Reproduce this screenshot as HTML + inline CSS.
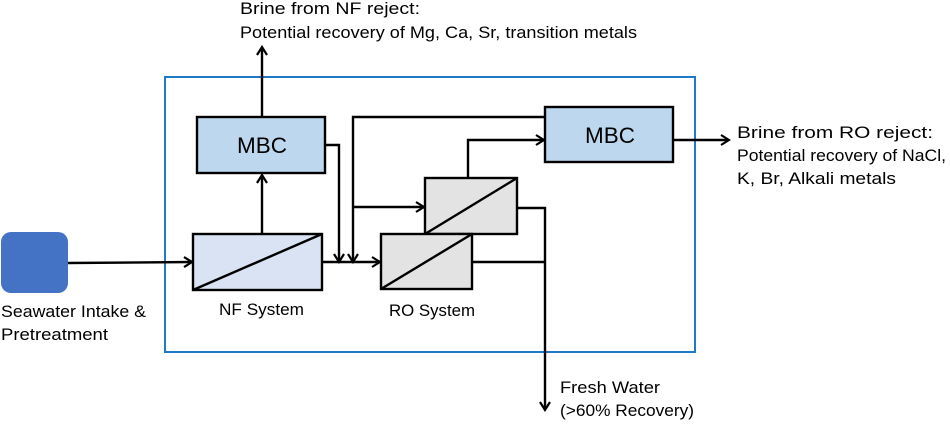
<!DOCTYPE html>
<html><head><style>
body{margin:0;background:#fff;}
svg text{font-family:"Liberation Sans",sans-serif;fill:#000;}
</style></head><body>
<svg width="950" height="422" viewBox="0 0 950 422" xmlns="http://www.w3.org/2000/svg">
<defs><marker id="a" markerWidth="12" markerHeight="12" refX="10" refY="6" orient="auto" markerUnits="userSpaceOnUse"><path d="M2,1 L10,6 L2,11" fill="none" stroke="#000" stroke-width="2.2"/></marker></defs>
<rect x="165" y="77" width="530" height="275" fill="none" stroke="#1f78c8" stroke-width="2"/>
<rect x="1" y="232" width="67" height="61" rx="10" fill="#4472c4"/>
<g stroke="#000" stroke-width="2.4" fill="none">
<line x1="68" y1="263" x2="192" y2="262" marker-end="url(#a)"/>
<line x1="262" y1="117" x2="262" y2="47" marker-end="url(#a)"/>
<line x1="262" y1="234" x2="262" y2="175" marker-end="url(#a)"/>
<polyline points="325,145 339,145 339,262" marker-end="url(#a)"/>
<polyline points="545,117 353,117 353,262" marker-end="url(#a)"/>
<line x1="353" y1="207" x2="424" y2="207" marker-end="url(#a)"/>
<line x1="322" y1="262" x2="380" y2="262" marker-end="url(#a)"/>
<polyline points="468,178 468,140 544,140" marker-end="url(#a)"/>
<polyline points="517,208 545,208 545,410" marker-end="url(#a)"/>
<line x1="472" y1="262" x2="545" y2="262"/>
<line x1="673" y1="140" x2="729" y2="140" marker-end="url(#a)"/>
</g>
<g stroke="#000" stroke-width="2.4">
<rect x="197" y="117" width="128" height="56" fill="#bdd7ee"/>
<rect x="545" y="107" width="128" height="55" fill="#bdd7ee"/>
<rect x="193" y="234" width="129" height="56" fill="#dae3f3"/>
<line x1="193" y1="290" x2="322" y2="234"/>
<rect x="425" y="178" width="92" height="56" fill="#e3e3e3"/>
<line x1="425" y1="234" x2="517" y2="178"/>
<rect x="381" y="234" width="91" height="55" fill="#e3e3e3"/>
<line x1="381" y1="289" x2="472" y2="234"/>
</g>
<text x="237" y="153" font-size="22" textLength="50" lengthAdjust="spacingAndGlyphs">MBC</text>
<text x="585" y="143" font-size="22" textLength="50" lengthAdjust="spacingAndGlyphs">MBC</text>
<g font-size="17" lengthAdjust="spacingAndGlyphs">
<text x="240" y="14" textLength="180" lengthAdjust="spacingAndGlyphs">Brine from NF reject:</text>
<text x="240" y="38" textLength="397" lengthAdjust="spacingAndGlyphs">Potential recovery of Mg, Ca, Sr, transition metals</text>
<text x="737" y="138" textLength="196" lengthAdjust="spacingAndGlyphs">Brine from RO reject:</text>
<text x="737" y="161" textLength="209" lengthAdjust="spacingAndGlyphs">Potential recovery of NaCl,</text>
<text x="737" y="184" textLength="159" lengthAdjust="spacingAndGlyphs">K, Br, Alkali metals</text>
<text x="1" y="317" textLength="145" lengthAdjust="spacingAndGlyphs">Seawater Intake &amp;</text>
<text x="1" y="340" textLength="107" lengthAdjust="spacingAndGlyphs">Pretreatment</text>
<text x="219" y="315" textLength="85" lengthAdjust="spacingAndGlyphs">NF System</text>
<text x="389" y="316" textLength="86" lengthAdjust="spacingAndGlyphs">RO System</text>
<text x="560" y="393" textLength="100" lengthAdjust="spacingAndGlyphs">Fresh Water</text>
<text x="560" y="416" textLength="134" lengthAdjust="spacingAndGlyphs">(&gt;60% Recovery)</text>
</g>
</svg>
</body></html>
